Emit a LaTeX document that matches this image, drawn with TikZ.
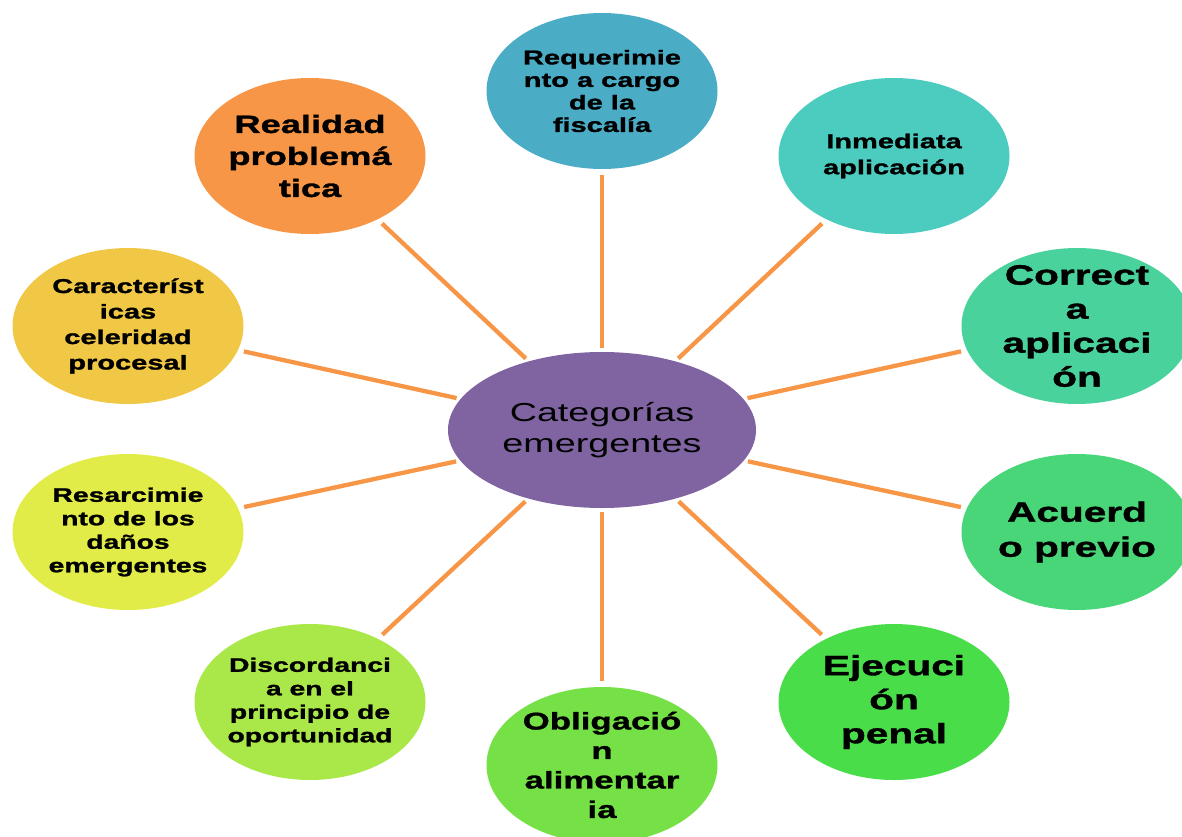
\documentclass[tikz,border=0pt]{standalone}
\usepackage{fontspec}
\usetikzlibrary{shapes.geometric}
\newfontfamily\wfont[FakeStretch=1.45, BoldFeatures={FakeBold=1.3}]{Liberation Sans}
\definecolor{cPurple}{RGB}{128,100,162}
\definecolor{cLine}{RGB}{247,150,70}
\definecolor{cRea}{RGB}{247,150,70}
\definecolor{cReq}{RGB}{75,172,198}
\definecolor{cInm}{RGB}{76,203,191}
\definecolor{cCor}{RGB}{74,210,156}
\definecolor{cAcu}{RGB}{72,214,120}
\definecolor{cEje}{RGB}{74,221,74}
\definecolor{cObl}{RGB}{118,225,70}
\definecolor{cDis}{RGB}{170,232,74}
\definecolor{cRes}{RGB}{225,236,72}
\definecolor{cCar}{RGB}{240,200,70}
\tikzset{
  bubble/.style={ellipse, draw=none, fill=#1, minimum width=231pt, minimum height=156pt, inner sep=0pt},
  hub/.style={ellipse, draw=none, fill=cPurple, minimum width=308pt, minimum height=156pt, inner sep=0pt},
  txt/.style={align=center, inner sep=0pt, text=black},
  link/.style={draw=cLine, line width=4.3pt, shorten <=4pt, shorten >=6pt},
  bsize/.style 2 args={font={\wfont\bfseries\fontsize{#1}{#2}\selectfont}},
}
\begin{document}
\begin{tikzpicture}[x=1pt,y=-1pt]
\useasboundingbox (0,0) rectangle (1182,837);
% bubbles
\node[hub] (hub) at (602,430) {};
\node[bubble=cReq] (req) at (602,91) {};
\node[bubble=cInm] (inm) at (894,156) {};
\node[bubble=cCor] (cor) at (1077,326) {};
\node[bubble=cAcu] (acu) at (1077,532) {};
\node[bubble=cEje] (eje) at (894,702) {};
\node[bubble=cObl] (obl) at (602,765) {};
\node[bubble=cDis] (dis) at (310,702) {};
\node[bubble=cRes] (res) at (128,532) {};
\node[bubble=cCar] (car) at (128,326) {};
\node[bubble=cRea] (rea) at (310,156) {};
% connectors
\foreach \n in {req,inm,cor,acu,eje,obl,dis,res,car,rea}
  \draw[link] (hub) -- (\n);
% texts
\node[txt, font={\wfont\fontsize{26}{31}\selectfont}] (thub) at (hub) {Categorías\\emergentes};
\node[txt, bsize={20}{22.5}] (treq) at (req) {Requerimie\\nto a cargo\\de la\\fiscalía};
\node[txt, bsize={20}{26}] (tinm) at (inm) {Inmediata\\aplicación};
\node[txt, bsize={28}{34}] (tcor) at (cor) {Correct\\a\\aplicaci\\ón};
\node[txt, bsize={28}{35}] (tacu) at (acu) {Acuerd\\o previo};
\node[txt, bsize={28}{34}] (teje) at (eje) {Ejecuci\\ón\\penal};
\node[txt, bsize={24}{29.5}] (tobl) at (obl) {Obligació\\n\\alimentar\\ia};
\node[txt, bsize={19.5}{23.5}] (tdis) at (dis) {Discordanci\\a en el\\principio de\\oportunidad};
\node[txt, bsize={19.5}{23.5}] (tres) at (res) {Resarcimie\\nto de los\\daños\\emergentes};
\node[txt, bsize={20}{25.5}] (tcar) at (car) {Característ\\icas\\celeridad\\procesal};
\node[txt, bsize={25}{32}] (trea) at (rea) {Realidad\\problemá\\tica};
\end{tikzpicture}
\end{document}
